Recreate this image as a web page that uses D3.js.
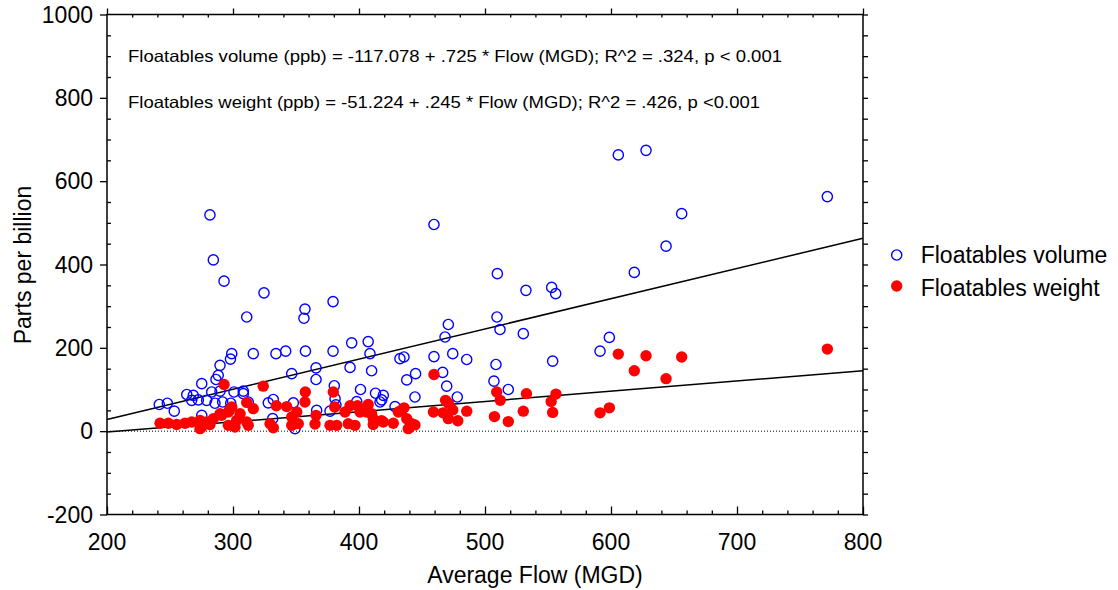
<!DOCTYPE html>
<html>
<head>
<meta charset="utf-8">
<script src="https://cdn.jsdelivr.net/npm/d3@7/dist/d3.min.js"></script>
<style>
  html, body { margin: 0; padding: 0; background: #fff; }
  svg { display: block; font-family: "Liberation Sans", Arial, sans-serif; }
</style>
</head>
<body>
<svg id="chart" width="1118" height="590"></svg>
<script>
// ---- data ----
const volumePoints = [
  [281.7,519],[284.4,411],[292.9,360],[324.6,332],[310.9,274],[357.1,293],[356.3,271],[379.4,311],
  [459.5,496],[509.8,378],[532.5,338],[552.9,345],[556.1,330],[509.5,274],[511.9,244],[530.4,234],
  [470.9,256],[468.3,226],[394.2,212],[407.3,215],[408.7,186],[379.4,192],[357.5,192],[341.8,192],
  [334.1,186],[316.1,186],[299,186],[298,173],[432.5,174],[435.7,178],[459.5,179],[474.4,186],
  [485.5,172],[508.7,160],[553.7,168],[605.8,663],[627.8,674],[771.7,563],[656.1,522],[643.7,444],
  [618.5,381],[598.7,225],[591.3,192],[289.7,158],[288.3,134],[286.5,124],[275.2,114],[263.3,88],
  [268.5,86],[267.2,74],[272.5,75],[279.1,74],[283.1,94],[289.7,96],[285.7,67],[291.8,70],
  [298.2,67],[308.2,96],[308.2,90],[241.5,64],[247.9,67],[253.4,48],[275.2,38],[346.6,138],
  [365.9,152],[365.9,124],[380.4,109],[392.9,153],[410,145],[444.9,138],[437.9,123],[466.4,141],
  [469.6,108],[507.1,120],[518.5,100],[401.2,100],[413.1,91],[419.3,86],[418,75],[416.7,70],
  [444.4,82],[478,82],[428.6,59],[398.2,71],[381.7,63],[328,68],[332,76],[347.9,68],
  [366.4,50],[377,48],[381,78],[349.2,6],[331.5,30],[312.1,70],[300.8,94]
];
const weightPoints = [
  [292.9,112],[324,108],[357.4,94],[379.6,94],[310.9,69],[316.1,54],[299,58],[296.3,46],
  [289.7,42],[334.4,61],[342.6,59],[357.1,70],[380.7,58],[365.9,38],[350.6,46],[346.6,34],
  [388.9,46],[242.1,19],[248.7,19],[255.3,16],[261.9,19],[267.2,22],[273.8,26],[279.1,22],
  [284.4,30],[291,38],[297.1,50],[305.6,42],[296.3,14],[302.9,26],[310.9,22],[273.8,6],
  [301.6,10],[312.1,14],[329.4,18],[332,8],[346.6,14],[351.8,18],[365.1,17],[377,14],
  [382.3,14],[391.5,18],[459.5,136],[392.9,61],[398.8,61],[407.3,64],[468.7,74],[470.9,67],
  [433.8,50],[435.7,56],[459.1,46],[466.7,44],[470.9,30],[478.4,25],[406,46],[411.3,30],
  [417.9,25],[427.2,19],[437.9,30],[441.8,18],[396.8,14],[411.3,16],[439.1,6],[444.4,15],
  [474.4,51],[485.5,48],[509.3,94],[512.1,74],[532.9,90],[556.3,89],[552.5,71],[553.7,45],
  [530.4,48],[507.5,35],[518.5,23],[605.8,185],[627.8,181],[656.1,178],[618.5,145],[643.7,126],
  [771.7,197],[591.3,44],[598.7,56],[400.8,46],[410,42],[419.3,22],[431.2,46],[275.2,10],[281.7,16]
];
// regression fits: [intercept, slope]
const volumeFit = [-117.078, 0.725];
const weightFit = [-51.224, 0.245];
const fitRange = [200, 800];
const xTicks = [200, 300, 400, 500, 600, 700, 800];
const yTicks = [-200, 0, 200, 400, 600, 800, 1000];
const seriesNames = ["Floatables volume", "Floatables weight"];
const annotations = [
  "Floatables volume (ppb) = -117.078 + .725 * Flow (MGD); R^2 = .324, p < 0.001",
  "Floatables weight (ppb) = -51.224 + .245 * Flow (MGD); R^2 = .426, p <0.001"
];
const xTitle = "Average Flow (MGD)";
const yTitle = "Parts per billion";

// ---- layout ----
const L = 107, R = 863, T = 14.5, B = 514.5;
const BLUE = "#0000ff", RED = "#ff0000";
const svg = d3.select("#chart");
const x = d3.scaleLinear().domain([200, 800]).range([L, R]);
const y = d3.scaleLinear().domain([-200, 1000]).range([B, T]);

// zero dotted line
svg.append("line")
  .attr("x1", L).attr("x2", R).attr("y1", y(0)).attr("y2", y(0))
  .attr("stroke", "#000").attr("stroke-width", 1).attr("stroke-dasharray", "1,2");

// regression lines
[volumeFit, weightFit].forEach(f => {
  svg.append("line")
    .attr("x1", x(fitRange[0])).attr("y1", y(f[0] + f[1] * fitRange[0]))
    .attr("x2", x(fitRange[1])).attr("y2", y(f[0] + f[1] * fitRange[1]))
    .attr("stroke", "#000").attr("stroke-width", 1.5);
});

// axes (frame + ticks) using d3 axes
const tickStyle = g => { g.select(".domain").remove(); g.selectAll("text").remove(); g.selectAll("line").attr("stroke", "#000").attr("stroke-width", 1.3); };
const minorX = d3.range(200, 801, 20);
const minorY = d3.range(-200, 1001, 50);

// bottom: all ticks inward
svg.append("g").attr("transform", `translate(0,${B})`)
  .call(d3.axisTop(x).tickValues(minorX.filter(v => v % 100 !== 0)).tickSize(4)).call(tickStyle);
svg.append("g").attr("transform", `translate(0,${B})`)
  .call(d3.axisTop(x).tickValues(xTicks).tickSize(8)).call(tickStyle);
// top: minor inward, major outward
svg.append("g").attr("transform", `translate(0,${T})`)
  .call(d3.axisBottom(x).tickValues(minorX.filter(v => v % 100 !== 0)).tickSize(3)).call(tickStyle);
svg.append("g").attr("transform", `translate(0,${T})`)
  .call(d3.axisTop(x).tickValues(xTicks).tickSize(6)).call(tickStyle);
// left: minor inward, major outward
svg.append("g").attr("transform", `translate(${L},0)`)
  .call(d3.axisRight(y).tickValues(minorY.filter(v => v % 200 !== 0)).tickSize(4)).call(tickStyle);
svg.append("g").attr("transform", `translate(${L},0)`)
  .call(d3.axisLeft(y).tickValues(yTicks).tickSize(7)).call(tickStyle);
// right: outward
svg.append("g").attr("transform", `translate(${R},0)`)
  .call(d3.axisRight(y).tickValues(minorY).tickSize(5)).call(tickStyle);

// frame
svg.append("rect").attr("x", L).attr("y", T).attr("width", R - L).attr("height", B - T)
  .attr("fill", "none").attr("stroke", "#000").attr("stroke-width", 1.5);

// tick labels
svg.append("g").selectAll("text").data(xTicks).join("text")
  .attr("x", d => x(d)).attr("y", 550).attr("text-anchor", "middle")
  .attr("font-size", 23).attr("fill", "#000").text(d => d);
svg.append("g").selectAll("text").data(yTicks).join("text")
  .attr("x", 93).attr("y", d => y(d) + 8).attr("text-anchor", "end")
  .attr("font-size", 23).attr("fill", "#000").text(d => d);

// axis titles
svg.append("text").attr("x", 535).attr("y", 583).attr("text-anchor", "middle")
  .attr("font-size", 23).attr("fill", "#000").text(xTitle);
svg.append("text").attr("transform", `translate(31,265) rotate(-90)`).attr("text-anchor", "middle")
  .attr("font-size", 23).attr("fill", "#000").text(yTitle);

// annotations (reference text is slightly wide; fit to its measured span)
const annoLengths = [654, 632];
svg.append("g").selectAll("text").data(annotations).join("text")
  .attr("x", 128).attr("y", (d, i) => 61.7 + i * 45.8)
  .attr("font-size", 16.5).attr("fill", "#000")
  .attr("textLength", (d, i) => annoLengths[i]).attr("lengthAdjust", "spacingAndGlyphs")
  .text(d => d);

// points
svg.append("g").selectAll("circle").data(volumePoints).join("circle")
  .attr("cx", d => x(d[0])).attr("cy", d => y(d[1])).attr("r", 5.1)
  .attr("fill", "none").attr("stroke", BLUE).attr("stroke-width", 1.4);
svg.append("g").selectAll("circle").data(weightPoints).join("circle")
  .attr("cx", d => x(d[0])).attr("cy", d => y(d[1])).attr("r", 5.7)
  .attr("fill", RED);

// legend
const leg = svg.append("g");
leg.append("circle").attr("cx", 896.7).attr("cy", 255).attr("r", 5.1)
  .attr("fill", "none").attr("stroke", BLUE).attr("stroke-width", 1.4);
leg.append("circle").attr("cx", 896.7).attr("cy", 286).attr("r", 5.7).attr("fill", RED);
leg.selectAll("text").data(seriesNames).join("text")
  .attr("x", 920.7).attr("y", (d, i) => 263.3 + i * 32.7)
  .attr("font-size", 23).attr("fill", "#000").text(d => d);
</script>
</body>
</html>
